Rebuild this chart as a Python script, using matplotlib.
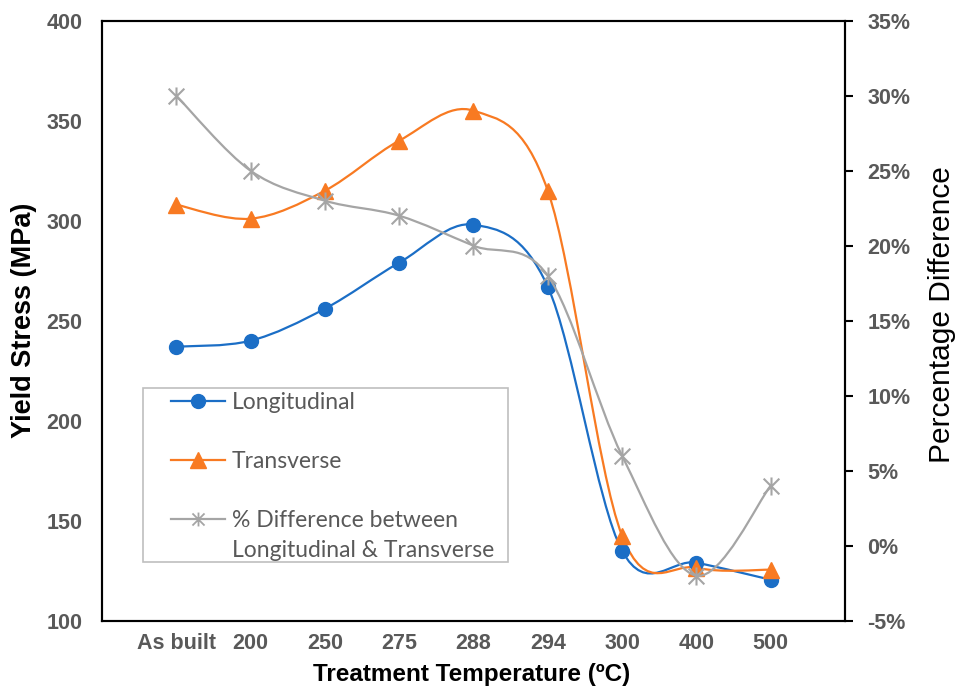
import numpy as np
import matplotlib
matplotlib.use("Agg")
import matplotlib.pyplot as plt
from matplotlib.path import Path
from matplotlib.patches import PathPatch, Rectangle
from matplotlib.lines import Line2D
from matplotlib.ticker import PercentFormatter

plt.rcParams['font.family'] = ['Liberation Sans', 'DejaVu Sans']
plt.rcParams['axes.unicode_minus'] = False

# yield stress (MPa) and the % difference between orientations
temps = ['As built', '200', '250', '275', '288', '294', '300', '400', '500']
longitudinal = [237, 240, 256, 279, 298, 267, 135, 129, 120.5]
transverse = [308, 301, 315, 340, 355, 315, 142.5, 126.5, 125.5]
pct_diff = [30, 25, 23, 22, 20, 18, 6, -2, 4]

BLUE = '#1B6EC6'
ORANGE = '#F87A22'
GREY = '#A5A5A5'
TICK_GREY = '#595959'


def smooth_path(xs, ys):
    # Catmull-Rom style bezier through the points (Excel "smoothed line")
    pts = np.column_stack([xs, ys]).astype(float)
    ext = np.vstack([pts[0], pts, pts[-1]])
    verts = [pts[0]]
    codes = [Path.MOVETO]
    for i in range(len(pts) - 1):
        p0, p1, p2, p3 = ext[i], ext[i + 1], ext[i + 2], ext[i + 3]
        verts += [p1 + (p2 - p0) / 6, p2 - (p3 - p1) / 6, p2]
        codes += [Path.CURVE4] * 3
    return Path(verts, codes)


# asterisk marker: an X with a vertical bar
star = Path([[-1, -1], [1, 1], [-1, 1], [1, -1], [0, -1.15], [0, 1.15]],
            [Path.MOVETO, Path.LINETO] * 3)

x = np.arange(len(temps))

fig = plt.figure(figsize=(9.55, 6.92), dpi=100)
ax = fig.add_axes([0.1068, 0.1030, 0.7780, 0.8671])
ax2 = ax.twinx()

ax.add_patch(PathPatch(smooth_path(x, longitudinal), fill=False, edgecolor=BLUE, lw=1.6, zorder=2))
ax.plot(x, longitudinal, 'o', color=BLUE, markersize=10, zorder=3)
ax.add_patch(PathPatch(smooth_path(x, transverse), fill=False, edgecolor=ORANGE, lw=1.6, zorder=2))
ax.plot(x, transverse, '^', color=ORANGE, markersize=11, zorder=3)

ax2.add_patch(PathPatch(smooth_path(x, pct_diff), fill=False, edgecolor=GREY, lw=1.6, zorder=2))
ax2.plot(x, pct_diff, linestyle='none', marker=star, markersize=13,
         markerfacecolor='none', markeredgecolor=GREY, markeredgewidth=1.5, zorder=3)

ax.set_xlim(-1, 9)
ax.set_ylim(100, 400)
ax.set_yticks(np.arange(100, 401, 50))
ax.set_xticks(x)
ax.set_xticklabels(temps)
ax2.set_ylim(-5, 35)
ax2.set_yticks(np.arange(-5, 36, 5))
ax2.yaxis.set_major_formatter(PercentFormatter(decimals=0))

for a in (ax, ax2):
    for s in a.spines.values():
        s.set_linewidth(1.5)
        s.set_color('black')

ax.tick_params(axis='x', length=0, pad=9)
ax.tick_params(axis='y', length=0, pad=14)
ax2.tick_params(axis='y', direction='out', length=6, width=1.5, pad=10)
for lab in ax.get_xticklabels() + ax.get_yticklabels() + ax2.get_yticklabels():
    lab.set_fontsize(15.5)
    lab.set_fontweight('bold')
    lab.set_color(TICK_GREY)

ax.set_ylabel('Yield Stress (MPa)', fontsize=19.5, fontweight='bold')
ax.yaxis.set_label_coords(-0.088, 0.5)
ax2.set_ylabel('Percentage Difference', fontsize=21.5)
ax2.yaxis.set_label_coords(1.112, 0.51)
ax.set_xlabel('Treatment Temperature (ºC)', fontsize=17.5, fontweight='bold')
ax.xaxis.set_label_coords(0.497, -0.070)

# legend frame drawn separately so the entries can sit close to the top
ax2.add_patch(Rectangle((0.0552, 0.098), 0.4912, 0.290, transform=ax2.transAxes,
                        facecolor='white', edgecolor='#BFBFBF', lw=1.2, zorder=4))
blank = Line2D([], [], linestyle='none')
handles = [
    Line2D([], [], color=BLUE, lw=1.6, marker='o', markersize=10),
    blank,
    Line2D([], [], color=ORANGE, lw=1.6, marker='^', markersize=11),
    blank,
    Line2D([], [], color=GREY, lw=1.6, marker=star, markersize=10,
           markerfacecolor='none', markeredgewidth=1.3),
    blank,
]
labels = ['Longitudinal', ' ', 'Transverse', ' ', '% Difference between',
          'Longitudinal & Transverse']
leg = ax2.legend(handles, labels, loc='upper left', bbox_to_anchor=(0.0929, 0.3805),
                 frameon=False, borderpad=0, borderaxespad=0, handlelength=2.35,
                 handletextpad=0.3, labelspacing=0.37,
                 prop={'family': ['Lato', 'DejaVu Sans'], 'size': 16.5})
leg.set_zorder(5)
for t in leg.get_texts():
    t.set_color(TICK_GREY)

fig.savefig('out.png', dpi=100)
